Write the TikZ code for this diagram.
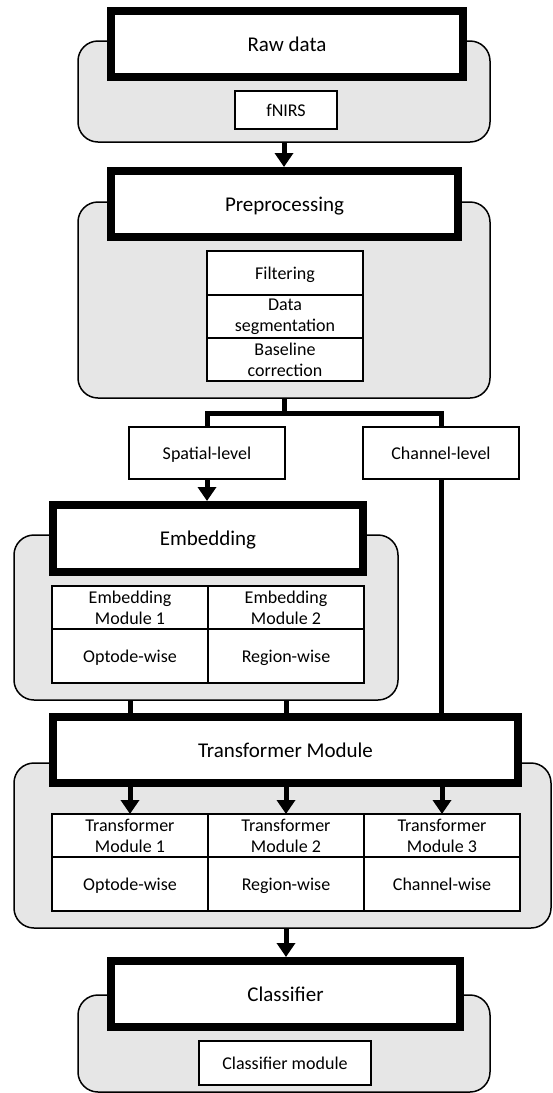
\documentclass[tikz,border=0pt]{standalone}
\usepackage{fontspec}
\setmainfont{Carlito}
\usepackage{tikz}
\usetikzlibrary{positioning,arrows.meta}
\definecolor{panelgray}{RGB}{230,230,230}

\begin{document}
\begin{tikzpicture}[
  x=1pt,y=-1pt,
  panel/.style={draw,line width=1.5pt,fill=panelgray,rounded corners=20pt},
  head/.style={draw,line width=8pt,fill=white,minimum height=66pt,
  text height=18pt,text depth=4pt,font=\fontsize{21}{25}\selectfont},
  cell/.style={draw,line width=1.5pt,fill=white,inner sep=0pt,outer sep=0pt,
  align=center,minimum width=156pt,font=\fontsize{18}{21}\selectfont},
  oneline/.style={cell,text height=15pt,text depth=3pt},
  conn/.style={line width=5pt},
  arr/.style={conn,-{Triangle[length=14pt,width=18pt]}}
]
\useasboundingbox (0,0) rectangle (553,1093);
\node[panel,minimum width=412pt,minimum height=101pt] (rawbg) at (284,91.5) {};
\node[head,minimum width=352pt] (raw) at (287,44) {Raw data};
\node[oneline,minimum width=102pt,minimum height=38pt] (fnirs) at (286,110) {fNIRS};

\node[panel,minimum width=412pt,minimum height=196pt] (prebg) at (284,300) {};
\node[head,minimum width=347pt] (pre) at (284.5,204) {Preprocessing};
\node[oneline,minimum height=44pt] (filt) at (285,273) {Filtering};
\node[cell,minimum height=43pt,below=0pt of filt] (seg) {Data\\segmentation};
\node[cell,minimum height=43pt,below=0pt of seg] (base) {Baseline\\correction};
\draw[arr] (rawbg.south) -- (rawbg.south |- pre.north);

\coordinate (split) at (284,413);
\node[oneline,minimum height=52pt] (spatial) at (207,453) {Spatial-level};
\node[oneline,minimum height=52pt] (chan) at (441,453) {Channel-level};
\draw[conn] (prebg.south) -- (split);
\draw[conn] (spatial.north) |- (split) -| (chan.north);

\node[panel,minimum width=384pt,minimum height=165pt] (embbg) at (206,617.5) {};
\node[head,minimum width=310pt,minimum height=67pt] (emb) at (208,538.5) {Embedding};
\node[cell,minimum height=43pt] (emb1) at (130,607.5) {Embedding\\Module 1};
\node[cell,minimum height=43pt,right=0pt of emb1] (emb2) {Embedding\\Module 2};
\node[oneline,minimum height=54pt,below=0pt of emb1] (optemb) {Optode-wise};
\node[oneline,minimum height=54pt,below=0pt of emb2] (regemb) {Region-wise};
\draw[arr] (spatial.south) -- (spatial.south |- emb.north);

\node[panel,minimum width=537pt,minimum height=165pt] (trbg) at (282.5,845.5) {};
\node[head,minimum width=465pt] (tr) at (285.5,750) {Transformer Module};
\node[cell,minimum height=43pt] (tm1) at (130,835.5) {Transformer\\Module 1};
\node[cell,minimum height=43pt,right=0pt of tm1] (tm2) {Transformer\\Module 2};
\node[cell,minimum height=43pt,right=0pt of tm2] (tm3) {Transformer\\Module 3};
\node[oneline,minimum height=54pt,below=0pt of tm1] (opttr) {Optode-wise};
\node[oneline,minimum height=54pt,below=0pt of tm2] (regtr) {Region-wise};
\node[oneline,minimum height=54pt,below=0pt of tm3] (chantr) {Channel-wise};
\draw[conn] (emb1 |- embbg.south) -- (emb1 |- tr.north);
\draw[conn] (emb2 |- embbg.south) -- (emb2 |- tr.north);
\draw[conn] (chan.south) -- (chan.south |- tr.north);
\draw[arr] (tm1 |- tr.south) -- (tm1.north);
\draw[arr] (tm2 |- tr.south) -- (tm2.north);
\draw[arr] (tm3 |- tr.south) -- (tm3.north);

\node[panel,minimum width=412pt,minimum height=97pt] (clsbg) at (284,1043.5) {};
\node[head,minimum width=349pt] (cls) at (285.5,994) {Classifier};
\node[oneline,minimum width=172pt,minimum height=44pt] (clsmod) at (285,1063) {Classifier module};
\draw[arr] (tm2 |- trbg.south) -- (tm2 |- cls.north);
\end{tikzpicture}
\end{document}
